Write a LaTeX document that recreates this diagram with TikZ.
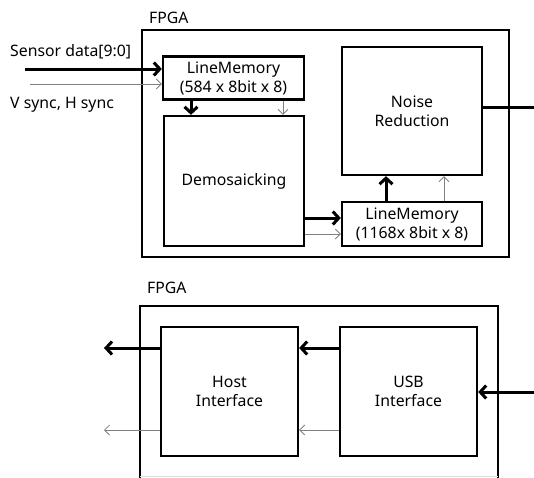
\documentclass[tikz,border=0pt]{standalone}
\usepackage{fontspec}
\setmainfont{Noto Sans}
\usetikzlibrary{arrows.meta}
\begin{document}
\begin{tikzpicture}[x=1pt,y=-1pt,
  every node/.style={font=\fontsize{15.8}{19}\selectfont},
  blk/.style={draw,line width=2.3pt,inner sep=0pt,align=center},
  outer/.style={draw,line width=2.3pt},
  bigarrow/.style={line width=3pt,-{Straight Barb[length=6pt,width=13pt,line width=3pt]}},
  bigline/.style={line width=3pt},
  smallarrow/.style={line width=0.9pt,gray,-{Straight Barb[length=5pt,width=10pt,line width=0.8pt]}},
  lbl/.style={anchor=west,inner sep=0pt}]
\useasboundingbox (0,0) rectangle (534,477);
% outer FPGA boxes
\draw[outer] (142,30) rectangle (509,257);
\draw[outer] (140,478) -- (140,306) -- (498,306) -- (498,478);
\draw[gray!25,line width=1pt] (140,476) -- (498,476);
\node[lbl] (f1) at (149,18) {FPGA};
\node[lbl] (f2) at (147,288) {FPGA};
% blocks
\node[blk,minimum width=141pt,minimum height=43pt] (lm1) at (233.5,78) {LineMemory\\(584 x 8bit x 8)};
\node[blk,minimum width=140pt,minimum height=130pt] (demo) at (234,181) {Demosaicking};
\node[blk,minimum width=140pt,minimum height=128pt] (nr) at (412,111) {Noise\\Reduction};
\node[blk,minimum width=140pt,minimum height=44pt] (lm2) at (412,224) {LineMemory\\(1168x 8bit x 8)};
\node[blk,minimum width=137pt,minimum height=129pt] (host) at (229.5,391.5) {Host\\Interface};
\node[blk,minimum width=137pt,minimum height=129pt] (usb) at (408.5,391.5) {USB\\Interface};
% labels
\node[lbl] (sd) at (10,52) {Sensor data[9:0]};
\node[lbl] (vs) at (10,105) {V sync, H sync};
% inputs
\coordinate (sin) at (25,69);
\coordinate (vin) at (30,84);
\draw[bigarrow] (sin) -- (sin -| lm1.west);
\draw[smallarrow] (vin) -- (vin -| lm1.west);
% LM1 -> Demo
\draw[bigarrow] ([xshift=-42.5pt]lm1.south) -- ([xshift=-42.5pt]lm1.south |- demo.north);
\draw[smallarrow] ([xshift=49.5pt]lm1.south) -- ([xshift=49.5pt]lm1.south |- demo.north);
% Demo -> LM2
\draw[bigarrow] ([yshift=-37pt]demo.east) -- ([yshift=-37pt]demo.east -| lm2.west);
\draw[smallarrow] ([yshift=-53pt]demo.east) -- ([yshift=-53pt]demo.east -| lm2.west);
% LM2 -> NR
\draw[bigarrow] ([xshift=-26pt]lm2.north) -- ([xshift=-26pt]lm2.north |- nr.south);
\draw[smallarrow] ([xshift=32pt]lm2.north) -- ([xshift=32pt]lm2.north |- nr.south);
% NR output
\coordinate (nrout) at (534,107);
\draw[bigline] (nrout -| nr.east) -- (nrout);
% bottom
\coordinate (hout) at (104,348);
\coordinate (hout2) at (104,430);
\draw[bigarrow] (hout -| host.west) -- (hout);
\draw[smallarrow] (hout2 -| host.west) -- (hout2);
\draw[bigarrow] (hout -| usb.west) -- (hout -| host.east);
\draw[smallarrow] (hout2 -| usb.west) -- (hout2 -| host.east);
\coordinate (uin) at (534,392);
\draw[bigarrow] (uin) -- (uin -| usb.east);
\end{tikzpicture}
\end{document}
